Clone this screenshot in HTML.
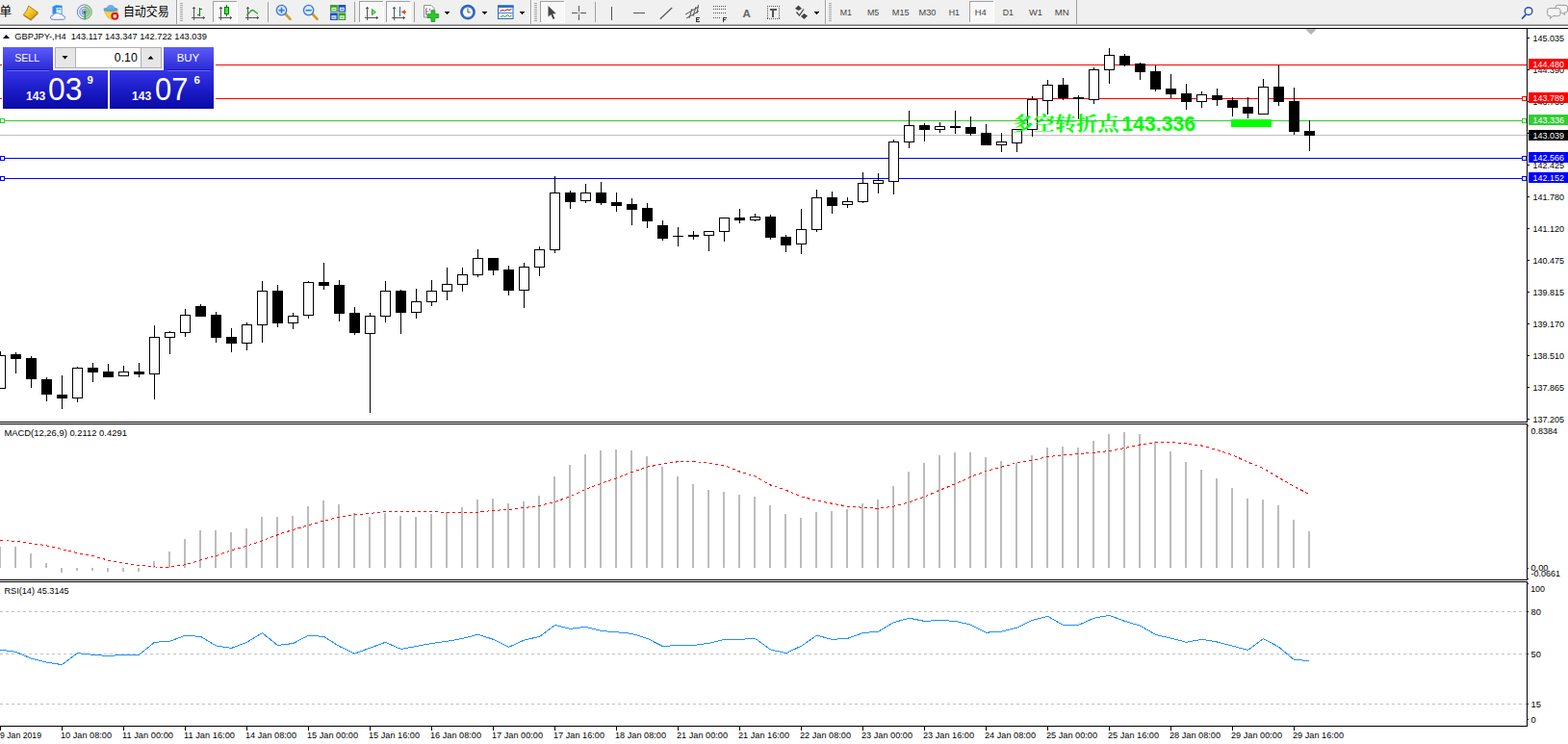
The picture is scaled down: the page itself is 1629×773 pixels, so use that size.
<!DOCTYPE html>
<html><head><meta charset="utf-8"><title>GBPJPY H4</title>
<style>html,body{margin:0;padding:0;background:#fff;overflow:hidden}body{width:1629px;height:773px;font-family:"Liberation Sans",sans-serif}svg{display:block;position:absolute;left:0;top:0}text{font-family:"Liberation Sans",sans-serif}</style>
</head><body>
<svg width="1629" height="773" viewBox="0 0 1629 773">
<rect x="0" y="0" width="1629" height="773" fill="#fff" />
<g shape-rendering="crispEdges">
<rect x="0" y="67" width="1586" height="1" fill="#f00" />
<rect x="0" y="102" width="1586" height="1" fill="#f00" />
<rect x="0" y="125" width="1586" height="1" fill="#32cd32" />
<rect x="0" y="140" width="1586" height="1" fill="#c0c0c0" />
<rect x="0" y="164" width="1586" height="1" fill="#00f" />
<rect x="0" y="185" width="1586" height="1" fill="#00f" />
<rect x="0" y="123" width="5" height="5" fill="#32cd32" />
<rect x="1" y="124" width="3" height="3" fill="#fff" />
<rect x="1581" y="123" width="5" height="5" fill="#32cd32" />
<rect x="1582" y="124" width="3" height="3" fill="#fff" />
<rect x="0" y="162" width="5" height="5" fill="#00f" />
<rect x="1" y="163" width="3" height="3" fill="#fff" />
<rect x="1581" y="162" width="5" height="5" fill="#00f" />
<rect x="1582" y="163" width="3" height="3" fill="#fff" />
<rect x="0" y="183" width="5" height="5" fill="#00f" />
<rect x="1" y="184" width="3" height="3" fill="#fff" />
<rect x="1581" y="183" width="5" height="5" fill="#00f" />
<rect x="1582" y="184" width="3" height="3" fill="#fff" />
<rect x="1581" y="100" width="5" height="5" fill="#f00" />
<rect x="1582" y="101" width="3" height="3" fill="#fff" />
<rect x="1279" y="124" width="42" height="8" fill="#0f0" />
</g>
<g shape-rendering="crispEdges">
<rect x="0" y="365" width="1" height="39" fill="#000" />
<rect x="-5" y="369" width="11" height="35" fill="#000" />
<rect x="-4" y="370" width="9" height="33" fill="#fff" />
<rect x="16" y="366" width="1" height="22" fill="#000" />
<rect x="11" y="368" width="11" height="5" fill="#000" />
<rect x="32" y="370" width="1" height="33" fill="#000" />
<rect x="27" y="372" width="11" height="22" fill="#000" />
<rect x="48" y="392" width="1" height="25" fill="#000" />
<rect x="43" y="394" width="11" height="16" fill="#000" />
<rect x="64" y="390" width="1" height="35" fill="#000" />
<rect x="59" y="410" width="11" height="4" fill="#000" />
<rect x="80" y="381" width="1" height="37" fill="#000" />
<rect x="75" y="382" width="11" height="32" fill="#000" />
<rect x="76" y="383" width="9" height="30" fill="#fff" />
<rect x="96" y="377" width="1" height="20" fill="#000" />
<rect x="91" y="382" width="11" height="5" fill="#000" />
<rect x="112" y="378" width="1" height="14" fill="#000" />
<rect x="107" y="386" width="11" height="6" fill="#000" />
<rect x="128" y="380" width="1" height="11" fill="#000" />
<rect x="123" y="386" width="11" height="5" fill="#000" />
<rect x="124" y="387" width="9" height="3" fill="#fff" />
<rect x="144" y="377" width="1" height="15" fill="#000" />
<rect x="139" y="386" width="11" height="3" fill="#000" />
<rect x="160" y="338" width="1" height="77" fill="#000" />
<rect x="155" y="350" width="11" height="39" fill="#000" />
<rect x="156" y="351" width="9" height="37" fill="#fff" />
<rect x="176" y="344" width="1" height="24" fill="#000" />
<rect x="171" y="345" width="11" height="6" fill="#000" />
<rect x="172" y="346" width="9" height="4" fill="#fff" />
<rect x="192" y="321" width="1" height="29" fill="#000" />
<rect x="187" y="327" width="11" height="19" fill="#000" />
<rect x="188" y="328" width="9" height="17" fill="#fff" />
<rect x="208" y="316" width="1" height="13" fill="#000" />
<rect x="203" y="318" width="11" height="11" fill="#000" />
<rect x="224" y="324" width="1" height="32" fill="#000" />
<rect x="219" y="327" width="11" height="24" fill="#000" />
<rect x="240" y="341" width="1" height="25" fill="#000" />
<rect x="235" y="350" width="11" height="7" fill="#000" />
<rect x="256" y="335" width="1" height="29" fill="#000" />
<rect x="251" y="337" width="11" height="20" fill="#000" />
<rect x="252" y="338" width="9" height="18" fill="#fff" />
<rect x="272" y="292" width="1" height="64" fill="#000" />
<rect x="267" y="302" width="11" height="36" fill="#000" />
<rect x="268" y="303" width="9" height="34" fill="#fff" />
<rect x="288" y="296" width="1" height="44" fill="#000" />
<rect x="283" y="302" width="11" height="34" fill="#000" />
<rect x="304" y="325" width="1" height="17" fill="#000" />
<rect x="299" y="328" width="11" height="8" fill="#000" />
<rect x="300" y="329" width="9" height="6" fill="#fff" />
<rect x="320" y="292" width="1" height="39" fill="#000" />
<rect x="315" y="293" width="11" height="35" fill="#000" />
<rect x="316" y="294" width="9" height="33" fill="#fff" />
<rect x="336" y="273" width="1" height="28" fill="#000" />
<rect x="331" y="293" width="11" height="4" fill="#000" />
<rect x="352" y="291" width="1" height="43" fill="#000" />
<rect x="347" y="296" width="11" height="30" fill="#000" />
<rect x="368" y="319" width="1" height="29" fill="#000" />
<rect x="363" y="325" width="11" height="21" fill="#000" />
<rect x="384" y="325" width="1" height="104" fill="#000" />
<rect x="379" y="328" width="11" height="19" fill="#000" />
<rect x="380" y="329" width="9" height="17" fill="#fff" />
<rect x="400" y="292" width="1" height="43" fill="#000" />
<rect x="395" y="302" width="11" height="27" fill="#000" />
<rect x="396" y="303" width="9" height="25" fill="#fff" />
<rect x="416" y="301" width="1" height="46" fill="#000" />
<rect x="411" y="302" width="11" height="23" fill="#000" />
<rect x="432" y="300" width="1" height="31" fill="#000" />
<rect x="427" y="313" width="11" height="12" fill="#000" />
<rect x="428" y="314" width="9" height="10" fill="#fff" />
<rect x="448" y="291" width="1" height="27" fill="#000" />
<rect x="443" y="302" width="11" height="12" fill="#000" />
<rect x="444" y="303" width="9" height="10" fill="#fff" />
<rect x="464" y="278" width="1" height="34" fill="#000" />
<rect x="459" y="295" width="11" height="8" fill="#000" />
<rect x="460" y="296" width="9" height="6" fill="#fff" />
<rect x="480" y="278" width="1" height="25" fill="#000" />
<rect x="475" y="285" width="11" height="11" fill="#000" />
<rect x="476" y="286" width="9" height="9" fill="#fff" />
<rect x="496" y="259" width="1" height="29" fill="#000" />
<rect x="491" y="268" width="11" height="18" fill="#000" />
<rect x="492" y="269" width="9" height="16" fill="#fff" />
<rect x="512" y="268" width="1" height="18" fill="#000" />
<rect x="507" y="268" width="11" height="13" fill="#000" />
<rect x="528" y="276" width="1" height="31" fill="#000" />
<rect x="523" y="280" width="11" height="22" fill="#000" />
<rect x="544" y="273" width="1" height="47" fill="#000" />
<rect x="539" y="277" width="11" height="25" fill="#000" />
<rect x="540" y="278" width="9" height="23" fill="#fff" />
<rect x="560" y="256" width="1" height="31" fill="#000" />
<rect x="555" y="259" width="11" height="19" fill="#000" />
<rect x="556" y="260" width="9" height="17" fill="#fff" />
<rect x="576" y="183" width="1" height="80" fill="#000" />
<rect x="571" y="200" width="11" height="60" fill="#000" />
<rect x="572" y="201" width="9" height="58" fill="#fff" />
<rect x="592" y="198" width="1" height="19" fill="#000" />
<rect x="587" y="200" width="11" height="10" fill="#000" />
<rect x="608" y="191" width="1" height="20" fill="#000" />
<rect x="603" y="200" width="11" height="9" fill="#000" />
<rect x="604" y="201" width="9" height="7" fill="#fff" />
<rect x="624" y="189" width="1" height="24" fill="#000" />
<rect x="619" y="200" width="11" height="11" fill="#000" />
<rect x="640" y="200" width="1" height="20" fill="#000" />
<rect x="635" y="210" width="11" height="4" fill="#000" />
<rect x="656" y="206" width="1" height="28" fill="#000" />
<rect x="651" y="212" width="11" height="6" fill="#000" />
<rect x="672" y="211" width="1" height="26" fill="#000" />
<rect x="667" y="216" width="11" height="14" fill="#000" />
<rect x="688" y="229" width="1" height="21" fill="#000" />
<rect x="683" y="234" width="11" height="14" fill="#000" />
<rect x="704" y="236" width="1" height="20" fill="#000" />
<rect x="699" y="245" width="11" height="1" fill="#000" />
<rect x="720" y="240" width="1" height="9" fill="#000" />
<rect x="715" y="244" width="11" height="2" fill="#000" />
<rect x="736" y="240" width="1" height="21" fill="#000" />
<rect x="731" y="240" width="11" height="5" fill="#000" />
<rect x="732" y="241" width="9" height="3" fill="#fff" />
<rect x="752" y="226" width="1" height="25" fill="#000" />
<rect x="747" y="226" width="11" height="15" fill="#000" />
<rect x="748" y="227" width="9" height="13" fill="#fff" />
<rect x="768" y="217" width="1" height="15" fill="#000" />
<rect x="763" y="226" width="11" height="3" fill="#000" />
<rect x="784" y="222" width="1" height="8" fill="#000" />
<rect x="779" y="225" width="11" height="4" fill="#000" />
<rect x="780" y="226" width="9" height="2" fill="#fff" />
<rect x="800" y="223" width="1" height="26" fill="#000" />
<rect x="795" y="225" width="11" height="22" fill="#000" />
<rect x="816" y="244" width="1" height="18" fill="#000" />
<rect x="811" y="246" width="11" height="9" fill="#000" />
<rect x="832" y="217" width="1" height="47" fill="#000" />
<rect x="827" y="238" width="11" height="16" fill="#000" />
<rect x="828" y="239" width="9" height="14" fill="#fff" />
<rect x="848" y="197" width="1" height="44" fill="#000" />
<rect x="843" y="205" width="11" height="34" fill="#000" />
<rect x="844" y="206" width="9" height="32" fill="#fff" />
<rect x="864" y="199" width="1" height="23" fill="#000" />
<rect x="859" y="205" width="11" height="9" fill="#000" />
<rect x="880" y="205" width="1" height="11" fill="#000" />
<rect x="875" y="209" width="11" height="4" fill="#000" />
<rect x="876" y="210" width="9" height="2" fill="#fff" />
<rect x="896" y="179" width="1" height="32" fill="#000" />
<rect x="891" y="190" width="11" height="20" fill="#000" />
<rect x="892" y="191" width="9" height="18" fill="#fff" />
<rect x="912" y="180" width="1" height="21" fill="#000" />
<rect x="907" y="187" width="11" height="4" fill="#000" />
<rect x="908" y="188" width="9" height="2" fill="#fff" />
<rect x="928" y="145" width="1" height="57" fill="#000" />
<rect x="923" y="147" width="11" height="42" fill="#000" />
<rect x="924" y="148" width="9" height="40" fill="#fff" />
<rect x="944" y="115" width="1" height="39" fill="#000" />
<rect x="939" y="130" width="11" height="18" fill="#000" />
<rect x="940" y="131" width="9" height="16" fill="#fff" />
<rect x="960" y="128" width="1" height="19" fill="#000" />
<rect x="955" y="130" width="11" height="5" fill="#000" />
<rect x="976" y="127" width="1" height="11" fill="#000" />
<rect x="971" y="131" width="11" height="4" fill="#000" />
<rect x="972" y="132" width="9" height="2" fill="#fff" />
<rect x="992" y="115" width="1" height="24" fill="#000" />
<rect x="987" y="131" width="11" height="2" fill="#000" />
<rect x="1008" y="121" width="1" height="20" fill="#000" />
<rect x="1003" y="132" width="11" height="7" fill="#000" />
<rect x="1024" y="129" width="1" height="22" fill="#000" />
<rect x="1019" y="138" width="11" height="13" fill="#000" />
<rect x="1040" y="138" width="1" height="20" fill="#000" />
<rect x="1035" y="147" width="11" height="4" fill="#000" />
<rect x="1036" y="148" width="9" height="2" fill="#fff" />
<rect x="1056" y="134" width="1" height="24" fill="#000" />
<rect x="1051" y="134" width="11" height="15" fill="#000" />
<rect x="1052" y="135" width="9" height="13" fill="#fff" />
<rect x="1072" y="100" width="1" height="42" fill="#000" />
<rect x="1067" y="103" width="11" height="32" fill="#000" />
<rect x="1068" y="104" width="9" height="30" fill="#fff" />
<rect x="1088" y="83" width="1" height="36" fill="#000" />
<rect x="1083" y="88" width="11" height="17" fill="#000" />
<rect x="1084" y="89" width="9" height="15" fill="#fff" />
<rect x="1104" y="81" width="1" height="23" fill="#000" />
<rect x="1099" y="88" width="11" height="14" fill="#000" />
<rect x="1120" y="99" width="1" height="25" fill="#000" />
<rect x="1115" y="101" width="11" height="2" fill="#000" />
<rect x="1136" y="70" width="1" height="38" fill="#000" />
<rect x="1131" y="72" width="11" height="32" fill="#000" />
<rect x="1132" y="73" width="9" height="30" fill="#fff" />
<rect x="1152" y="50" width="1" height="37" fill="#000" />
<rect x="1147" y="57" width="11" height="16" fill="#000" />
<rect x="1148" y="58" width="9" height="14" fill="#fff" />
<rect x="1168" y="56" width="1" height="13" fill="#000" />
<rect x="1163" y="58" width="11" height="10" fill="#000" />
<rect x="1184" y="65" width="1" height="18" fill="#000" />
<rect x="1179" y="66" width="11" height="9" fill="#000" />
<rect x="1200" y="68" width="1" height="27" fill="#000" />
<rect x="1195" y="74" width="11" height="19" fill="#000" />
<rect x="1216" y="77" width="1" height="25" fill="#000" />
<rect x="1211" y="92" width="11" height="6" fill="#000" />
<rect x="1232" y="87" width="1" height="27" fill="#000" />
<rect x="1227" y="97" width="11" height="9" fill="#000" />
<rect x="1248" y="95" width="1" height="17" fill="#000" />
<rect x="1243" y="98" width="11" height="8" fill="#000" />
<rect x="1244" y="99" width="9" height="6" fill="#fff" />
<rect x="1264" y="92" width="1" height="18" fill="#000" />
<rect x="1259" y="99" width="11" height="5" fill="#000" />
<rect x="1280" y="101" width="1" height="20" fill="#000" />
<rect x="1275" y="104" width="11" height="8" fill="#000" />
<rect x="1296" y="101" width="1" height="22" fill="#000" />
<rect x="1291" y="111" width="11" height="7" fill="#000" />
<rect x="1312" y="82" width="1" height="37" fill="#000" />
<rect x="1307" y="90" width="11" height="29" fill="#000" />
<rect x="1308" y="91" width="9" height="27" fill="#fff" />
<rect x="1328" y="68" width="1" height="42" fill="#000" />
<rect x="1323" y="90" width="11" height="16" fill="#000" />
<rect x="1344" y="91" width="1" height="49" fill="#000" />
<rect x="1339" y="105" width="11" height="32" fill="#000" />
<rect x="1360" y="125" width="1" height="32" fill="#000" />
<rect x="1355" y="136" width="11" height="5" fill="#000" />
</g>
<text x="1051.6" y="136" font-size="20.5" fill="#0f0" text-anchor="start" font-weight="bold" textLength="111" lengthAdjust="spacingAndGlyphs" style="font-family:'Liberation Serif','Noto Serif CJK SC',serif">多空转折点</text>
<text x="1165.2" y="135.8" font-size="21.5" fill="#0f0" text-anchor="start" font-weight="bold" textLength="77" lengthAdjust="spacingAndGlyphs" >143.336</text>
<g shape-rendering="crispEdges">
<rect x="1052" y="125" width="15" height="1" fill="#32cd32" />
<rect x="1078" y="125" width="165" height="1" fill="#32cd32" />
</g>
<g shape-rendering="crispEdges">
<rect x="-1" y="568" width="2" height="22" fill="#bcbcbc" />
<rect x="15" y="568" width="2" height="22" fill="#bcbcbc" />
<rect x="31" y="575" width="2" height="15" fill="#bcbcbc" />
<rect x="47" y="585" width="2" height="5" fill="#bcbcbc" />
<rect x="63" y="590" width="2" height="5" fill="#bcbcbc" />
<rect x="79" y="590" width="2" height="3" fill="#bcbcbc" />
<rect x="95" y="590" width="2" height="3" fill="#bcbcbc" />
<rect x="111" y="590" width="2" height="4" fill="#bcbcbc" />
<rect x="127" y="590" width="2" height="4" fill="#bcbcbc" />
<rect x="143" y="590" width="2" height="4" fill="#bcbcbc" />
<rect x="159" y="583" width="2" height="7" fill="#bcbcbc" />
<rect x="175" y="573" width="2" height="17" fill="#bcbcbc" />
<rect x="191" y="560" width="2" height="30" fill="#bcbcbc" />
<rect x="207" y="551" width="2" height="39" fill="#bcbcbc" />
<rect x="223" y="551" width="2" height="39" fill="#bcbcbc" />
<rect x="239" y="553" width="2" height="37" fill="#bcbcbc" />
<rect x="255" y="549" width="2" height="41" fill="#bcbcbc" />
<rect x="271" y="537" width="2" height="53" fill="#bcbcbc" />
<rect x="287" y="537" width="2" height="53" fill="#bcbcbc" />
<rect x="303" y="536" width="2" height="54" fill="#bcbcbc" />
<rect x="319" y="526" width="2" height="64" fill="#bcbcbc" />
<rect x="335" y="520" width="2" height="70" fill="#bcbcbc" />
<rect x="351" y="524" width="2" height="66" fill="#bcbcbc" />
<rect x="367" y="533" width="2" height="57" fill="#bcbcbc" />
<rect x="383" y="537" width="2" height="53" fill="#bcbcbc" />
<rect x="399" y="533" width="2" height="57" fill="#bcbcbc" />
<rect x="415" y="536" width="2" height="54" fill="#bcbcbc" />
<rect x="431" y="537" width="2" height="53" fill="#bcbcbc" />
<rect x="447" y="534" width="2" height="56" fill="#bcbcbc" />
<rect x="463" y="532" width="2" height="58" fill="#bcbcbc" />
<rect x="479" y="527" width="2" height="63" fill="#bcbcbc" />
<rect x="495" y="519" width="2" height="71" fill="#bcbcbc" />
<rect x="511" y="518" width="2" height="72" fill="#bcbcbc" />
<rect x="527" y="523" width="2" height="67" fill="#bcbcbc" />
<rect x="543" y="521" width="2" height="69" fill="#bcbcbc" />
<rect x="559" y="515" width="2" height="75" fill="#bcbcbc" />
<rect x="575" y="495" width="2" height="95" fill="#bcbcbc" />
<rect x="591" y="483" width="2" height="107" fill="#bcbcbc" />
<rect x="607" y="472" width="2" height="118" fill="#bcbcbc" />
<rect x="623" y="468" width="2" height="122" fill="#bcbcbc" />
<rect x="639" y="467" width="2" height="123" fill="#bcbcbc" />
<rect x="655" y="468" width="2" height="122" fill="#bcbcbc" />
<rect x="671" y="474" width="2" height="116" fill="#bcbcbc" />
<rect x="687" y="485" width="2" height="105" fill="#bcbcbc" />
<rect x="703" y="495" width="2" height="95" fill="#bcbcbc" />
<rect x="719" y="503" width="2" height="87" fill="#bcbcbc" />
<rect x="735" y="509" width="2" height="81" fill="#bcbcbc" />
<rect x="751" y="511" width="2" height="79" fill="#bcbcbc" />
<rect x="767" y="514" width="2" height="76" fill="#bcbcbc" />
<rect x="783" y="516" width="2" height="74" fill="#bcbcbc" />
<rect x="799" y="525" width="2" height="65" fill="#bcbcbc" />
<rect x="815" y="534" width="2" height="56" fill="#bcbcbc" />
<rect x="831" y="538" width="2" height="52" fill="#bcbcbc" />
<rect x="847" y="532" width="2" height="58" fill="#bcbcbc" />
<rect x="863" y="531" width="2" height="59" fill="#bcbcbc" />
<rect x="879" y="529" width="2" height="61" fill="#bcbcbc" />
<rect x="895" y="523" width="2" height="67" fill="#bcbcbc" />
<rect x="911" y="519" width="2" height="71" fill="#bcbcbc" />
<rect x="927" y="505" width="2" height="85" fill="#bcbcbc" />
<rect x="943" y="490" width="2" height="100" fill="#bcbcbc" />
<rect x="959" y="481" width="2" height="109" fill="#bcbcbc" />
<rect x="975" y="473" width="2" height="117" fill="#bcbcbc" />
<rect x="991" y="470" width="2" height="120" fill="#bcbcbc" />
<rect x="1007" y="470" width="2" height="120" fill="#bcbcbc" />
<rect x="1023" y="475" width="2" height="115" fill="#bcbcbc" />
<rect x="1039" y="479" width="2" height="111" fill="#bcbcbc" />
<rect x="1055" y="481" width="2" height="109" fill="#bcbcbc" />
<rect x="1071" y="473" width="2" height="117" fill="#bcbcbc" />
<rect x="1087" y="465" width="2" height="125" fill="#bcbcbc" />
<rect x="1103" y="464" width="2" height="126" fill="#bcbcbc" />
<rect x="1119" y="465" width="2" height="125" fill="#bcbcbc" />
<rect x="1135" y="458" width="2" height="132" fill="#bcbcbc" />
<rect x="1151" y="451" width="2" height="139" fill="#bcbcbc" />
<rect x="1167" y="449" width="2" height="141" fill="#bcbcbc" />
<rect x="1183" y="451" width="2" height="139" fill="#bcbcbc" />
<rect x="1199" y="459" width="2" height="131" fill="#bcbcbc" />
<rect x="1215" y="469" width="2" height="121" fill="#bcbcbc" />
<rect x="1231" y="480" width="2" height="110" fill="#bcbcbc" />
<rect x="1247" y="488" width="2" height="102" fill="#bcbcbc" />
<rect x="1263" y="497" width="2" height="93" fill="#bcbcbc" />
<rect x="1279" y="507" width="2" height="83" fill="#bcbcbc" />
<rect x="1295" y="518" width="2" height="72" fill="#bcbcbc" />
<rect x="1311" y="519" width="2" height="71" fill="#bcbcbc" />
<rect x="1327" y="525" width="2" height="65" fill="#bcbcbc" />
<rect x="1343" y="540" width="2" height="50" fill="#bcbcbc" />
<rect x="1359" y="552" width="2" height="38" fill="#bcbcbc" />
</g>
<polyline points="0.5,561.5 16.5,562.5 32.5,564.4 48.5,566.9 64.5,570.6 80.5,574.7 96.5,577.7 112.5,582.1 128.5,585.3 144.5,587.3 160.5,589.0 176.5,589.2 192.5,586.8 208.5,581.9 224.5,577.4 240.5,571.8 256.5,567.4 272.5,561.7 288.5,555.6 304.5,550.4 320.5,545.8 336.5,541.1 352.5,537.2 368.5,534.7 384.5,533.5 400.5,531.3 416.5,531.3 432.5,531.3 448.5,531.3 464.5,532.5 480.5,532.5 496.5,532.3 512.5,530.3 528.5,529.6 544.5,527.6 560.5,525.4 576.5,521.5 592.5,515.8 608.5,508.4 624.5,502.3 640.5,496.7 656.5,490.5 672.5,485.1 688.5,482.2 704.5,479.7 720.5,479.5 736.5,480.9 752.5,483.6 768.5,490.0 784.5,494.9 800.5,504.0 816.5,509.2 832.5,515.8 848.5,520.2 864.5,523.2 880.5,526.1 896.5,527.3 912.5,528.3 928.5,526.1 944.5,521.9 960.5,516.0 976.5,509.2 992.5,502.8 1008.5,495.4 1024.5,489.5 1040.5,485.1 1056.5,480.9 1072.5,478.2 1088.5,474.6 1104.5,472.8 1120.5,471.6 1136.5,470.4 1152.5,468.4 1168.5,465.5 1184.5,462.0 1200.5,459.8 1216.5,459.6 1232.5,461.0 1248.5,463.0 1264.5,467.4 1280.5,472.8 1296.5,480.2 1312.5,486.6 1328.5,496.2 1344.5,505.5 1360.5,513.6" fill="none" stroke="#f00" stroke-width="1" stroke-dasharray="3,3" shape-rendering="crispEdges"/>
<g shape-rendering="crispEdges">
<line x1="0" y1="635.5" x2="1586" y2="635.5" stroke="#c0c0c0" stroke-width="1" stroke-dasharray="3,3"/>
<line x1="0" y1="679.5" x2="1586" y2="679.5" stroke="#c0c0c0" stroke-width="1" stroke-dasharray="3,3"/>
<line x1="0" y1="731.5" x2="1586" y2="731.5" stroke="#c0c0c0" stroke-width="1" stroke-dasharray="3,3"/>
</g>
<polyline points="0.5,675.1 16.5,677.3 32.5,684.2 48.5,688.2 64.5,690.6 80.5,678.6 96.5,680.3 112.5,681.5 128.5,680.3 144.5,680.3 160.5,667.3 176.5,666.3 192.5,660.2 208.5,661.4 224.5,671.0 240.5,673.4 256.5,667.3 272.5,657.7 288.5,670.5 304.5,668.5 320.5,660.2 336.5,661.4 352.5,671.5 368.5,679.1 384.5,673.2 400.5,667.3 416.5,674.4 432.5,671.5 448.5,668.5 464.5,666.3 480.5,663.4 496.5,659.2 512.5,664.3 528.5,672.4 544.5,665.1 560.5,661.4 576.5,649.4 592.5,653.3 608.5,651.3 624.5,655.5 640.5,656.7 656.5,658.4 672.5,663.4 688.5,671.5 704.5,670.5 720.5,670.5 736.5,668.3 752.5,664.3 768.5,664.3 784.5,663.4 800.5,674.9 816.5,678.6 832.5,671.2 848.5,660.2 864.5,664.3 880.5,663.4 896.5,657.5 912.5,656.2 928.5,646.7 944.5,642.2 960.5,645.4 976.5,644.4 992.5,645.4 1008.5,649.1 1024.5,657.2 1040.5,656.2 1056.5,652.1 1072.5,644.4 1088.5,640.3 1104.5,649.4 1120.5,649.4 1136.5,642.2 1152.5,639.3 1168.5,645.4 1184.5,650.1 1200.5,659.4 1216.5,663.1 1232.5,667.3 1248.5,664.3 1264.5,667.0 1280.5,671.2 1296.5,675.4 1312.5,663.6 1328.5,672.2 1344.5,685.5 1360.5,686.4" fill="none" stroke="#1e90ff" stroke-width="1" shape-rendering="crispEdges"/>
<g shape-rendering="crispEdges">
<rect x="0" y="29" width="1629" height="1" fill="#000" />
<rect x="1586" y="29" width="1" height="726" fill="#000" />
<rect x="0" y="438" width="1587" height="1" fill="#000" />
<rect x="1586" y="439" width="1" height="1" fill="#fff" />
<rect x="0" y="440" width="1587" height="1" fill="#000" />
<rect x="0" y="602" width="1587" height="1" fill="#000" />
<rect x="1586" y="603" width="1" height="1" fill="#fff" />
<rect x="0" y="604" width="1587" height="1" fill="#000" />
<rect x="0" y="754" width="1587" height="1" fill="#000" />
<rect x="0" y="755" width="1" height="4" fill="#000" />
<rect x="64" y="755" width="1" height="4" fill="#000" />
<rect x="128" y="755" width="1" height="4" fill="#000" />
<rect x="192" y="755" width="1" height="4" fill="#000" />
<rect x="256" y="755" width="1" height="4" fill="#000" />
<rect x="320" y="755" width="1" height="4" fill="#000" />
<rect x="384" y="755" width="1" height="4" fill="#000" />
<rect x="448" y="755" width="1" height="4" fill="#000" />
<rect x="512" y="755" width="1" height="4" fill="#000" />
<rect x="576" y="755" width="1" height="4" fill="#000" />
<rect x="640" y="755" width="1" height="4" fill="#000" />
<rect x="704" y="755" width="1" height="4" fill="#000" />
<rect x="768" y="755" width="1" height="4" fill="#000" />
<rect x="832" y="755" width="1" height="4" fill="#000" />
<rect x="896" y="755" width="1" height="4" fill="#000" />
<rect x="960" y="755" width="1" height="4" fill="#000" />
<rect x="1024" y="755" width="1" height="4" fill="#000" />
<rect x="1088" y="755" width="1" height="4" fill="#000" />
<rect x="1152" y="755" width="1" height="4" fill="#000" />
<rect x="1216" y="755" width="1" height="4" fill="#000" />
<rect x="1280" y="755" width="1" height="4" fill="#000" />
<rect x="1344" y="755" width="1" height="4" fill="#000" />
<rect x="1587" y="39" width="2" height="1" fill="#000" />
<rect x="1587" y="72" width="2" height="1" fill="#000" />
<rect x="1587" y="105" width="2" height="1" fill="#000" />
<rect x="1587" y="138" width="2" height="1" fill="#000" />
<rect x="1587" y="171" width="2" height="1" fill="#000" />
<rect x="1587" y="204" width="2" height="1" fill="#000" />
<rect x="1587" y="237" width="2" height="1" fill="#000" />
<rect x="1587" y="270" width="2" height="1" fill="#000" />
<rect x="1587" y="303" width="2" height="1" fill="#000" />
<rect x="1587" y="336" width="2" height="1" fill="#000" />
<rect x="1587" y="369" width="2" height="1" fill="#000" />
<rect x="1587" y="402" width="2" height="1" fill="#000" />
<rect x="1587" y="435" width="2" height="1" fill="#000" />
<rect x="1587" y="442" width="1" height="1" fill="#000" />
<rect x="1587" y="590" width="1" height="1" fill="#000" />
<rect x="1587" y="601" width="1" height="1" fill="#000" />
<rect x="1587" y="606" width="1" height="1" fill="#000" />
<rect x="1587" y="635" width="1" height="1" fill="#000" />
<rect x="1587" y="679" width="1" height="1" fill="#000" />
<rect x="1587" y="731" width="1" height="1" fill="#000" />
<rect x="1587" y="747" width="1" height="1" fill="#000" />
<polygon points="1356,30 1368,30 1362,36" fill="#b4b4b4" shape-rendering="geometricPrecision"/>
</g>
<g font-family="Liberation Sans, sans-serif">
<text x="1592.5" y="43" font-size="9.3" fill="#000" text-anchor="start" font-weight="normal" textLength="32.5" lengthAdjust="spacingAndGlyphs" >145.035</text>
<text x="1592.5" y="76" font-size="9.3" fill="#000" text-anchor="start" font-weight="normal" textLength="32.5" lengthAdjust="spacingAndGlyphs" >144.390</text>
<text x="1592.5" y="109" font-size="9.3" fill="#000" text-anchor="start" font-weight="normal" textLength="32.5" lengthAdjust="spacingAndGlyphs" >143.730</text>
<text x="1592.5" y="142" font-size="9.3" fill="#000" text-anchor="start" font-weight="normal" textLength="32.5" lengthAdjust="spacingAndGlyphs" >143.085</text>
<text x="1592.5" y="175" font-size="9.3" fill="#000" text-anchor="start" font-weight="normal" textLength="32.5" lengthAdjust="spacingAndGlyphs" >142.425</text>
<text x="1592.5" y="208" font-size="9.3" fill="#000" text-anchor="start" font-weight="normal" textLength="32.5" lengthAdjust="spacingAndGlyphs" >141.780</text>
<text x="1592.5" y="241" font-size="9.3" fill="#000" text-anchor="start" font-weight="normal" textLength="32.5" lengthAdjust="spacingAndGlyphs" >141.120</text>
<text x="1592.5" y="274" font-size="9.3" fill="#000" text-anchor="start" font-weight="normal" textLength="32.5" lengthAdjust="spacingAndGlyphs" >140.475</text>
<text x="1592.5" y="307" font-size="9.3" fill="#000" text-anchor="start" font-weight="normal" textLength="32.5" lengthAdjust="spacingAndGlyphs" >139.815</text>
<text x="1592.5" y="340" font-size="9.3" fill="#000" text-anchor="start" font-weight="normal" textLength="32.5" lengthAdjust="spacingAndGlyphs" >139.170</text>
<text x="1592.5" y="373" font-size="9.3" fill="#000" text-anchor="start" font-weight="normal" textLength="32.5" lengthAdjust="spacingAndGlyphs" >138.510</text>
<text x="1592.5" y="406" font-size="9.3" fill="#000" text-anchor="start" font-weight="normal" textLength="32.5" lengthAdjust="spacingAndGlyphs" >137.865</text>
<text x="1592.5" y="439" font-size="9.3" fill="#000" text-anchor="start" font-weight="normal" textLength="32.5" lengthAdjust="spacingAndGlyphs" >137.205</text>
<rect x="1588" y="61" width="41" height="11" fill="#f00" shape-rendering="crispEdges"/>
<text x="1592.5" y="70" font-size="9.3" fill="#fff" text-anchor="start" font-weight="normal" textLength="32.5" lengthAdjust="spacingAndGlyphs" >144.480</text>
<rect x="1588" y="96" width="41" height="11" fill="#f00" shape-rendering="crispEdges"/>
<text x="1592.5" y="105" font-size="9.3" fill="#fff" text-anchor="start" font-weight="normal" textLength="32.5" lengthAdjust="spacingAndGlyphs" >143.789</text>
<rect x="1588" y="119" width="41" height="11" fill="#32cd32" shape-rendering="crispEdges"/>
<text x="1592.5" y="128" font-size="9.3" fill="#fff" text-anchor="start" font-weight="normal" textLength="32.5" lengthAdjust="spacingAndGlyphs" >143.336</text>
<rect x="1588" y="135" width="41" height="11" fill="#000" shape-rendering="crispEdges"/>
<text x="1592.5" y="144" font-size="9.3" fill="#fff" text-anchor="start" font-weight="normal" textLength="32.5" lengthAdjust="spacingAndGlyphs" >143.039</text>
<rect x="1588" y="158" width="41" height="11" fill="#00f" shape-rendering="crispEdges"/>
<text x="1592.5" y="167" font-size="9.3" fill="#fff" text-anchor="start" font-weight="normal" textLength="32.5" lengthAdjust="spacingAndGlyphs" >142.566</text>
<rect x="1588" y="179" width="41" height="11" fill="#00f" shape-rendering="crispEdges"/>
<text x="1592.5" y="188" font-size="9.3" fill="#fff" text-anchor="start" font-weight="normal" textLength="32.5" lengthAdjust="spacingAndGlyphs" >142.152</text>
<text x="1590.5" y="451" font-size="9.3" fill="#000" text-anchor="start" font-weight="normal" textLength="27.5" lengthAdjust="spacingAndGlyphs" >0.8384</text>
<text x="1590.5" y="593" font-size="9.3" fill="#000" text-anchor="start" font-weight="normal" textLength="18" lengthAdjust="spacingAndGlyphs" >0.00</text>
<text x="1590.5" y="599" font-size="9.3" fill="#000" text-anchor="start" font-weight="normal" textLength="30.5" lengthAdjust="spacingAndGlyphs" >-0.0661</text>
<text x="1590.2" y="615" font-size="9.3" fill="#000" text-anchor="start" font-weight="normal" textLength="14.8" lengthAdjust="spacingAndGlyphs" >100</text>
<text x="1590.5" y="639" font-size="9.3" fill="#000" text-anchor="start" font-weight="normal" >80</text>
<text x="1590.5" y="683" font-size="9.3" fill="#000" text-anchor="start" font-weight="normal" >50</text>
<text x="1590.5" y="735" font-size="9.3" fill="#000" text-anchor="start" font-weight="normal" >15</text>
<text x="1590.5" y="751" font-size="9.3" fill="#000" text-anchor="start" font-weight="normal" >0</text>
<text x="0" y="767" font-size="9.3" fill="#000" text-anchor="start" font-weight="normal" textLength="43" lengthAdjust="spacingAndGlyphs" >9 Jan 2019</text>
<text x="63" y="766.8" font-size="9.3" fill="#000" text-anchor="start" font-weight="normal" textLength="53" lengthAdjust="spacingAndGlyphs" >10 Jan 08:00</text>
<text x="127" y="766.8" font-size="9.3" fill="#000" text-anchor="start" font-weight="normal" textLength="53" lengthAdjust="spacingAndGlyphs" >11 Jan 00:00</text>
<text x="191" y="766.8" font-size="9.3" fill="#000" text-anchor="start" font-weight="normal" textLength="53" lengthAdjust="spacingAndGlyphs" >11 Jan 16:00</text>
<text x="255" y="766.8" font-size="9.3" fill="#000" text-anchor="start" font-weight="normal" textLength="53" lengthAdjust="spacingAndGlyphs" >14 Jan 08:00</text>
<text x="319" y="766.8" font-size="9.3" fill="#000" text-anchor="start" font-weight="normal" textLength="53" lengthAdjust="spacingAndGlyphs" >15 Jan 00:00</text>
<text x="383" y="766.8" font-size="9.3" fill="#000" text-anchor="start" font-weight="normal" textLength="53" lengthAdjust="spacingAndGlyphs" >15 Jan 16:00</text>
<text x="447" y="766.8" font-size="9.3" fill="#000" text-anchor="start" font-weight="normal" textLength="53" lengthAdjust="spacingAndGlyphs" >16 Jan 08:00</text>
<text x="511" y="766.8" font-size="9.3" fill="#000" text-anchor="start" font-weight="normal" textLength="53" lengthAdjust="spacingAndGlyphs" >17 Jan 00:00</text>
<text x="575" y="766.8" font-size="9.3" fill="#000" text-anchor="start" font-weight="normal" textLength="53" lengthAdjust="spacingAndGlyphs" >17 Jan 16:00</text>
<text x="639" y="766.8" font-size="9.3" fill="#000" text-anchor="start" font-weight="normal" textLength="53" lengthAdjust="spacingAndGlyphs" >18 Jan 08:00</text>
<text x="703" y="766.8" font-size="9.3" fill="#000" text-anchor="start" font-weight="normal" textLength="53" lengthAdjust="spacingAndGlyphs" >21 Jan 00:00</text>
<text x="767" y="766.8" font-size="9.3" fill="#000" text-anchor="start" font-weight="normal" textLength="53" lengthAdjust="spacingAndGlyphs" >21 Jan 16:00</text>
<text x="831" y="766.8" font-size="9.3" fill="#000" text-anchor="start" font-weight="normal" textLength="53" lengthAdjust="spacingAndGlyphs" >22 Jan 08:00</text>
<text x="895" y="766.8" font-size="9.3" fill="#000" text-anchor="start" font-weight="normal" textLength="53" lengthAdjust="spacingAndGlyphs" >23 Jan 00:00</text>
<text x="959" y="766.8" font-size="9.3" fill="#000" text-anchor="start" font-weight="normal" textLength="53" lengthAdjust="spacingAndGlyphs" >23 Jan 16:00</text>
<text x="1023" y="766.8" font-size="9.3" fill="#000" text-anchor="start" font-weight="normal" textLength="53" lengthAdjust="spacingAndGlyphs" >24 Jan 08:00</text>
<text x="1087" y="766.8" font-size="9.3" fill="#000" text-anchor="start" font-weight="normal" textLength="53" lengthAdjust="spacingAndGlyphs" >25 Jan 00:00</text>
<text x="1151" y="766.8" font-size="9.3" fill="#000" text-anchor="start" font-weight="normal" textLength="53" lengthAdjust="spacingAndGlyphs" >25 Jan 16:00</text>
<text x="1215" y="766.8" font-size="9.3" fill="#000" text-anchor="start" font-weight="normal" textLength="53" lengthAdjust="spacingAndGlyphs" >28 Jan 08:00</text>
<text x="1279" y="766.8" font-size="9.3" fill="#000" text-anchor="start" font-weight="normal" textLength="53" lengthAdjust="spacingAndGlyphs" >29 Jan 00:00</text>
<text x="1343" y="766.8" font-size="9.3" fill="#000" text-anchor="start" font-weight="normal" textLength="53" lengthAdjust="spacingAndGlyphs" >29 Jan 16:00</text>
<text x="15.3" y="41" font-size="9.3" fill="#000" text-anchor="start" font-weight="normal" textLength="199.5" lengthAdjust="spacingAndGlyphs" xml:space="preserve">GBPJPY-,H4&#160;&#160;143.117 143.347 142.722 143.039</text>
<polygon points="3,40 10,40 6.5,36" fill="#000"/>
<text x="4.4" y="452.5" font-size="9.3" fill="#000" text-anchor="start" font-weight="normal" textLength="127.5" lengthAdjust="spacingAndGlyphs" >MACD(12,26,9) 0.2112 0.4291</text>
<text x="4.4" y="616.5" font-size="9.3" fill="#000" text-anchor="start" font-weight="normal" textLength="67.3" lengthAdjust="spacingAndGlyphs" >RSI(14) 45.3145</text>
</g>
<g font-family="Liberation Sans, sans-serif">
<defs><linearGradient id="pg" gradientUnits="userSpaceOnUse" x1="0" y1="49" x2="0" y2="73"><stop offset="0" stop-color="#5c5cf8"/><stop offset="1" stop-color="#2a2ad6"/></linearGradient><linearGradient id="pg2" gradientUnits="userSpaceOnUse" x1="0" y1="73" x2="0" y2="113"><stop offset="0" stop-color="#3636e8"/><stop offset="0.5" stop-color="#1c1cc8"/><stop offset="1" stop-color="#0a0aa8"/></linearGradient></defs>
<g shape-rendering="crispEdges">
<rect x="2" y="48" width="222" height="66" fill="#fff" />
<rect x="3" y="49" width="52" height="24" fill="url(#pg)" />
<rect x="170" y="49" width="52" height="24" fill="url(#pg)" />
<rect x="3" y="73" width="109" height="40" fill="url(#pg2)" />
<rect x="114" y="73" width="108" height="40" fill="url(#pg2)" />
<rect x="7" y="72" width="44" height="1" fill="#1a1ab0" />
<rect x="174" y="72" width="44" height="1" fill="#1a1ab0" />
<rect x="7" y="73" width="44" height="1" fill="#6a6af0" />
<rect x="174" y="73" width="44" height="1" fill="#6a6af0" />
<rect x="57" y="49" width="111" height="22" fill="#adadad" />
<rect x="58" y="50" width="109" height="20" fill="#fff" />
<rect x="58" y="50" width="20" height="20" fill="#e6e6e6" />
<rect x="147" y="50" width="20" height="20" fill="#e6e6e6" />
<rect x="78" y="50" width="1" height="20" fill="#adadad" />
<rect x="146" y="50" width="1" height="20" fill="#adadad" />
</g>
<polygon points="64.5,58 70.5,58 67.5,61.5" fill="#000"/><polygon points="153.5,61.5 159.5,61.5 156.5,58" fill="#000"/>
<text x="142.8" y="64" font-size="12.3" fill="#000" text-anchor="end" font-weight="normal" >0.10</text>
<text x="28.2" y="64.3" font-size="11.8" fill="#fff" text-anchor="middle" font-weight="normal" textLength="25.8" lengthAdjust="spacingAndGlyphs" >SELL</text>
<text x="195.5" y="64.3" font-size="11.8" fill="#fff" text-anchor="middle" font-weight="normal" textLength="23.5" lengthAdjust="spacingAndGlyphs" >BUY</text>
<text x="27" y="104" font-size="12.4" fill="#fff" text-anchor="start" font-weight="bold" textLength="20.3" lengthAdjust="spacingAndGlyphs" >143</text>
<text x="50" y="103.8" font-size="33" fill="#fff" text-anchor="start" font-weight="normal" textLength="35.4" lengthAdjust="spacingAndGlyphs" >03</text>
<text x="90.4" y="87.4" font-size="11.4" fill="#fff" text-anchor="start" font-weight="bold" >9</text>
<text x="137" y="104" font-size="12.4" fill="#fff" text-anchor="start" font-weight="bold" textLength="20.3" lengthAdjust="spacingAndGlyphs" >143</text>
<text x="161.1" y="103.8" font-size="33" fill="#fff" text-anchor="start" font-weight="normal" textLength="34.4" lengthAdjust="spacingAndGlyphs" >07</text>
<text x="201.6" y="87.4" font-size="11.4" fill="#fff" text-anchor="start" font-weight="bold" >6</text>
</g>
<g shape-rendering="crispEdges">
<rect x="0" y="0" width="1629" height="25" fill="#f0f0f0" />
<rect x="0" y="25" width="1629" height="1" fill="#b0b0b0" />
<rect x="0" y="26" width="1629" height="1" fill="#787878" />
<rect x="0" y="27" width="1629" height="2" fill="#fff" />
<rect x="183" y="0" width="1" height="25" fill="#a0a0a0" />
<rect x="184" y="0" width="1" height="25" fill="#fff" />
<rect x="187" y="3" width="3" height="1" fill="#a8a8a8" />
<rect x="187" y="5" width="3" height="1" fill="#a8a8a8" />
<rect x="187" y="7" width="3" height="1" fill="#a8a8a8" />
<rect x="187" y="9" width="3" height="1" fill="#a8a8a8" />
<rect x="187" y="11" width="3" height="1" fill="#a8a8a8" />
<rect x="187" y="13" width="3" height="1" fill="#a8a8a8" />
<rect x="187" y="15" width="3" height="1" fill="#a8a8a8" />
<rect x="187" y="17" width="3" height="1" fill="#a8a8a8" />
<rect x="187" y="19" width="3" height="1" fill="#a8a8a8" />
<rect x="187" y="21" width="3" height="1" fill="#a8a8a8" />
<rect x="221" y="1" width="26" height="23" fill="#fff" />
<rect x="221" y="1" width="25" height="22" fill="#a0a0a0" />
<rect x="222" y="2" width="24" height="21" fill="#f8f8f8" />
<rect x="201" y="7" width="1" height="14" fill="#555" />
<rect x="200" y="8" width="3" height="1" fill="#555" />
<rect x="199" y="18" width="14" height="1" fill="#555" />
<rect x="211" y="17" width="1" height="3" fill="#555" />
<rect x="229" y="7" width="1" height="14" fill="#555" />
<rect x="228" y="8" width="3" height="1" fill="#555" />
<rect x="227" y="18" width="14" height="1" fill="#555" />
<rect x="239" y="17" width="1" height="3" fill="#555" />
<rect x="257" y="7" width="1" height="14" fill="#555" />
<rect x="256" y="8" width="3" height="1" fill="#555" />
<rect x="255" y="18" width="14" height="1" fill="#555" />
<rect x="267" y="17" width="1" height="3" fill="#555" />
<rect x="207" y="8" width="1" height="9" fill="#008000" />
<rect x="208" y="9" width="2" height="1" fill="#008000" />
<rect x="205" y="15" width="2" height="1" fill="#008000" />
<rect x="235" y="5" width="1" height="12" fill="#008000" />
<rect x="233" y="7" width="5" height="8" fill="#008000" />
<rect x="234" y="8" width="3" height="6" fill="#44e044" />
<rect x="278" y="2" width="1" height="21" fill="#a0a0a0" />
<rect x="368" y="2" width="1" height="21" fill="#a0a0a0" />
<rect x="373" y="1" width="26" height="23" fill="#fff" />
<rect x="373" y="1" width="25" height="22" fill="#a0a0a0" />
<rect x="374" y="2" width="24" height="21" fill="#f8f8f8" />
<rect x="401" y="1" width="26" height="23" fill="#fff" />
<rect x="401" y="1" width="25" height="22" fill="#a0a0a0" />
<rect x="402" y="2" width="24" height="21" fill="#f8f8f8" />
<rect x="381" y="7" width="1" height="14" fill="#555" />
<rect x="380" y="8" width="3" height="1" fill="#555" />
<rect x="379" y="18" width="14" height="1" fill="#555" />
<rect x="391" y="17" width="1" height="3" fill="#555" />
<rect x="409" y="7" width="1" height="14" fill="#555" />
<rect x="408" y="8" width="3" height="1" fill="#555" />
<rect x="407" y="18" width="14" height="1" fill="#555" />
<rect x="419" y="17" width="1" height="3" fill="#555" />
<rect x="430" y="2" width="1" height="21" fill="#a0a0a0" />
<rect x="551" y="0" width="1" height="25" fill="#a0a0a0" />
<rect x="552" y="0" width="1" height="25" fill="#fff" />
<rect x="555" y="3" width="3" height="1" fill="#a8a8a8" />
<rect x="555" y="5" width="3" height="1" fill="#a8a8a8" />
<rect x="555" y="7" width="3" height="1" fill="#a8a8a8" />
<rect x="555" y="9" width="3" height="1" fill="#a8a8a8" />
<rect x="555" y="11" width="3" height="1" fill="#a8a8a8" />
<rect x="555" y="13" width="3" height="1" fill="#a8a8a8" />
<rect x="555" y="15" width="3" height="1" fill="#a8a8a8" />
<rect x="555" y="17" width="3" height="1" fill="#a8a8a8" />
<rect x="555" y="19" width="3" height="1" fill="#a8a8a8" />
<rect x="555" y="21" width="3" height="1" fill="#a8a8a8" />
<rect x="561" y="1" width="26" height="23" fill="#fff" />
<rect x="561" y="1" width="25" height="22" fill="#a0a0a0" />
<rect x="562" y="2" width="24" height="21" fill="#f8f8f8" />
<rect x="618" y="2" width="1" height="21" fill="#a0a0a0" />
<rect x="857" y="0" width="1" height="25" fill="#a0a0a0" />
<rect x="858" y="0" width="1" height="25" fill="#fff" />
<rect x="861" y="3" width="3" height="1" fill="#a8a8a8" />
<rect x="861" y="5" width="3" height="1" fill="#a8a8a8" />
<rect x="861" y="7" width="3" height="1" fill="#a8a8a8" />
<rect x="861" y="9" width="3" height="1" fill="#a8a8a8" />
<rect x="861" y="11" width="3" height="1" fill="#a8a8a8" />
<rect x="861" y="13" width="3" height="1" fill="#a8a8a8" />
<rect x="861" y="15" width="3" height="1" fill="#a8a8a8" />
<rect x="861" y="17" width="3" height="1" fill="#a8a8a8" />
<rect x="861" y="19" width="3" height="1" fill="#a8a8a8" />
<rect x="861" y="21" width="3" height="1" fill="#a8a8a8" />
<rect x="1007" y="1" width="26" height="23" fill="#fff" />
<rect x="1007" y="1" width="25" height="22" fill="#a0a0a0" />
<rect x="1008" y="2" width="24" height="21" fill="#f8f8f8" />
<rect x="1118" y="0" width="1" height="25" fill="#a0a0a0" />
<rect x="462" y="12" width="5" height="1" fill="#000" />
<rect x="463" y="13" width="3" height="1" fill="#000" />
<rect x="464" y="14" width="1" height="1" fill="#000" />
<rect x="501" y="12" width="5" height="1" fill="#000" />
<rect x="502" y="13" width="3" height="1" fill="#000" />
<rect x="503" y="14" width="1" height="1" fill="#000" />
<rect x="540" y="12" width="5" height="1" fill="#000" />
<rect x="541" y="13" width="3" height="1" fill="#000" />
<rect x="542" y="14" width="1" height="1" fill="#000" />
<rect x="846" y="12" width="5" height="1" fill="#000" />
<rect x="847" y="13" width="3" height="1" fill="#000" />
<rect x="848" y="14" width="1" height="1" fill="#000" />
<rect x="601" y="6" width="1" height="15" fill="#555" />
<rect x="594" y="13" width="15" height="1" fill="#555" />
<rect x="601" y="12" width="1" height="3" fill="#f0f0f0" />
<rect x="600" y="13" width="3" height="1" fill="#f0f0f0" />
<rect x="601" y="13" width="1" height="1" fill="#555" />
<rect x="635" y="7" width="1" height="14" fill="#555" />
<rect x="658" y="13" width="12" height="1" fill="#555" />
<rect x="741" y="6" width="1" height="1" fill="#555" />
<rect x="743" y="6" width="1" height="1" fill="#555" />
<rect x="745" y="6" width="1" height="1" fill="#555" />
<rect x="747" y="6" width="1" height="1" fill="#555" />
<rect x="749" y="6" width="1" height="1" fill="#555" />
<rect x="751" y="6" width="1" height="1" fill="#555" />
<rect x="753" y="6" width="1" height="1" fill="#555" />
<rect x="741" y="9" width="1" height="1" fill="#555" />
<rect x="743" y="9" width="1" height="1" fill="#555" />
<rect x="745" y="9" width="1" height="1" fill="#555" />
<rect x="747" y="9" width="1" height="1" fill="#555" />
<rect x="749" y="9" width="1" height="1" fill="#555" />
<rect x="751" y="9" width="1" height="1" fill="#555" />
<rect x="753" y="9" width="1" height="1" fill="#555" />
<rect x="741" y="13" width="1" height="1" fill="#555" />
<rect x="743" y="13" width="1" height="1" fill="#555" />
<rect x="745" y="13" width="1" height="1" fill="#555" />
<rect x="747" y="13" width="1" height="1" fill="#555" />
<rect x="749" y="13" width="1" height="1" fill="#555" />
<rect x="751" y="13" width="1" height="1" fill="#555" />
<rect x="753" y="13" width="1" height="1" fill="#555" />
<rect x="741" y="18" width="1" height="1" fill="#555" />
<rect x="743" y="18" width="1" height="1" fill="#555" />
<rect x="745" y="18" width="1" height="1" fill="#555" />
<rect x="747" y="18" width="1" height="1" fill="#555" />
<rect x="797" y="6" width="1" height="1" fill="#555" />
<rect x="797" y="19" width="1" height="1" fill="#555" />
<rect x="799" y="6" width="1" height="1" fill="#555" />
<rect x="799" y="19" width="1" height="1" fill="#555" />
<rect x="801" y="6" width="1" height="1" fill="#555" />
<rect x="801" y="19" width="1" height="1" fill="#555" />
<rect x="803" y="6" width="1" height="1" fill="#555" />
<rect x="803" y="19" width="1" height="1" fill="#555" />
<rect x="805" y="6" width="1" height="1" fill="#555" />
<rect x="805" y="19" width="1" height="1" fill="#555" />
<rect x="807" y="6" width="1" height="1" fill="#555" />
<rect x="807" y="19" width="1" height="1" fill="#555" />
<rect x="809" y="6" width="1" height="1" fill="#555" />
<rect x="809" y="19" width="1" height="1" fill="#555" />
<rect x="797" y="6" width="1" height="1" fill="#555" />
<rect x="809" y="6" width="1" height="1" fill="#555" />
<rect x="797" y="8" width="1" height="1" fill="#555" />
<rect x="809" y="8" width="1" height="1" fill="#555" />
<rect x="797" y="10" width="1" height="1" fill="#555" />
<rect x="809" y="10" width="1" height="1" fill="#555" />
<rect x="797" y="12" width="1" height="1" fill="#555" />
<rect x="809" y="12" width="1" height="1" fill="#555" />
<rect x="797" y="14" width="1" height="1" fill="#555" />
<rect x="809" y="14" width="1" height="1" fill="#555" />
<rect x="797" y="16" width="1" height="1" fill="#555" />
<rect x="809" y="16" width="1" height="1" fill="#555" />
<rect x="797" y="18" width="1" height="1" fill="#555" />
<rect x="809" y="18" width="1" height="1" fill="#555" />
<rect x="800" y="9" width="7" height="2" fill="#555" />
<rect x="802" y="9" width="2" height="9" fill="#555" />
</g>
<path d="M256.3 15.7 C258.6 14.6 260 10.5 262.2 10.5 C264.2 10.5 265.4 13.4 267.8 14" fill="none" stroke="#2a9a2a" stroke-width="1.3"/>
<polygon points="386.5,9.6 386.5,15.6 390.3,12.6" fill="#7ae07a" stroke="#1a9a1a" stroke-width="0.9"/>
<g shape-rendering="crispEdges">
<rect x="415" y="7" width="1" height="10" fill="#1c6fb5" />
</g>
<polygon points="417,12.5 421,10 421,15" fill="#e05010"/><rect x="417" y="12" width="5" height="1" fill="#e05010"/>
<line x1="685.8" y1="19.8" x2="698.2" y2="8" stroke="#555" stroke-width="1.2"/>
<g stroke="#555" stroke-width="1" fill="none"><line x1="712" y1="15" x2="726" y2="7"/><line x1="713" y1="19" x2="726" y2="11.5"/><line x1="716" y1="19" x2="719" y2="9"/><line x1="720" y1="17" x2="723" y2="7"/><line x1="724" y1="14" x2="725.5" y2="5"/></g>
<g shape-rendering="crispEdges">
<rect x="723" y="18" width="1" height="5" fill="#333" />
<rect x="723" y="18" width="4" height="1" fill="#333" />
<rect x="723" y="20" width="3" height="1" fill="#333" />
<rect x="723" y="22" width="4" height="1" fill="#333" />
<rect x="751" y="18" width="1" height="5" fill="#333" />
<rect x="751" y="18" width="4" height="1" fill="#333" />
<rect x="751" y="20" width="3" height="1" fill="#333" />
</g>
<text x="775.7" y="17.8" font-size="11.6" fill="#666" text-anchor="middle" font-weight="bold" >A</text>
<g fill="#444"><polygon points="826,9 829.5,5.5 833,9 829.5,11"/><polygon points="832,17 835.5,20 839,16.5 835.5,14"/></g><path d="M827.5 12.5 L830.5 16 L835 9.5" stroke="#444" stroke-width="1.3" fill="none"/>
<polygon points="569.5,6 569.5,17.5 572.3,15 574.6,20 576.4,19.2 574.2,14.3 577.8,14.3" fill="#444"/>
<text x="872.8" y="16.4" font-size="9.8" fill="#444" text-anchor="start" font-weight="normal" textLength="12.2" lengthAdjust="spacingAndGlyphs" >M1</text>
<text x="901" y="16.4" font-size="9.8" fill="#444" text-anchor="start" font-weight="normal" textLength="12.3" lengthAdjust="spacingAndGlyphs" >M5</text>
<text x="926.8" y="16.4" font-size="9.8" fill="#444" text-anchor="start" font-weight="normal" textLength="17.8" lengthAdjust="spacingAndGlyphs" >M15</text>
<text x="954.5" y="16.4" font-size="9.8" fill="#444" text-anchor="start" font-weight="normal" textLength="18.0" lengthAdjust="spacingAndGlyphs" >M30</text>
<text x="985.7" y="16.4" font-size="9.8" fill="#444" text-anchor="start" font-weight="normal" textLength="11.3" lengthAdjust="spacingAndGlyphs" >H1</text>
<text x="1012.7" y="16.4" font-size="9.8" fill="#444" text-anchor="start" font-weight="normal" textLength="12.0" lengthAdjust="spacingAndGlyphs" >H4</text>
<text x="1041.7" y="16.4" font-size="9.8" fill="#444" text-anchor="start" font-weight="normal" textLength="11.3" lengthAdjust="spacingAndGlyphs" >D1</text>
<text x="1069" y="16.4" font-size="9.8" fill="#444" text-anchor="start" font-weight="normal" textLength="14" lengthAdjust="spacingAndGlyphs" >W1</text>
<text x="1095.7" y="16.4" font-size="9.8" fill="#444" text-anchor="start" font-weight="normal" textLength="15.0" lengthAdjust="spacingAndGlyphs" >MN</text>
<text x="-0.5" y="16.4" font-size="12.6" fill="#000" text-anchor="start" style="font-family:'Liberation Sans','Noto Sans CJK SC',sans-serif">单</text>
<text x="127.9" y="16.4" font-size="12.6" fill="#000" text-anchor="start" textLength="47.8" lengthAdjust="spacingAndGlyphs" style="font-family:'Liberation Sans','Noto Sans CJK SC',sans-serif">自动交易</text>
<defs><linearGradient id="gd" x1="0" y1="0" x2="1" y2="1"><stop offset="0" stop-color="#ffe680"/><stop offset="0.5" stop-color="#f5c21a"/><stop offset="1" stop-color="#c98a10"/></linearGradient></defs>
<path d="M29.8 6.2 L39.5 13 L32 20.3 L24.4 15.3 Q28 11.5 29.8 6.2Z" fill="url(#gd)" stroke="#a8721a" stroke-width="0.9"/><path d="M32 20.3 L39.5 13 L39.5 14.6 L32.2 21.4 L24.4 16.5 L24.4 15.3Z" fill="#b87a18"/>
<path d="M54.5 7 L58 5.2 L64.6 5.8 L64.6 14.5 L54.5 14.5Z" fill="#2b8ef0"/><rect x="58.5" y="8" width="5.2" height="6" fill="#e8f2ff"/><rect x="59.5" y="9.2" width="3.4" height="1" fill="#2b8ef0"/>
<path d="M55 20.3 Q52.3 20.3 52.5 18 Q52.8 16 55 16 Q55.6 13.6 58.5 13.8 Q60.5 12.6 62.3 14.6 Q65 14.2 65.5 16.4 Q67.8 16.6 67.6 18.6 Q67.4 20.3 65.5 20.3Z" fill="#f4f7fc" stroke="#5a7ec0" stroke-width="0.9"/>
<g fill="none" stroke-width="1"><path d="M87.8 4.9 A7.5 7.5 0 0 0 87.8 19.9" stroke="#5a82d8"/><path d="M87.8 7.4 A5 5 0 0 0 87.8 17.4" stroke="#5a82d8"/><path d="M87.8 9.6 A2.8 2.8 0 0 0 87.8 15.2" stroke="#4a72d0"/></g>
<path d="M87.8 4.9 A7.5 7.5 0 0 1 87.8 19.9Z" fill="#b8d8b8"/><g fill="none" stroke="#6aa86a" stroke-width="1"><path d="M87.8 4.9 A7.5 7.5 0 0 1 87.8 19.9"/><path d="M87.8 7.4 A5 5 0 0 1 87.8 17.4"/><path d="M87.8 9.6 A2.8 2.8 0 0 1 87.8 15.2"/></g><circle cx="87.8" cy="12.4" r="1.5" fill="#2a5ad0"/><rect x="87.6" y="12.8" width="1.2" height="7.6" fill="#18a018"/>
<path d="M108 11 L122 11 L122 14 L115.5 20.3 L112 18Z" fill="#f7d43a" stroke="#c9a020" stroke-width="0.6"/><ellipse cx="115" cy="9.8" rx="7.6" ry="2.4" fill="#5aa0e0"/><path d="M110.6 9.5 Q111 5 115 5 Q119 5 119.4 9.5Z" fill="#6ab0ea"/><circle cx="119.3" cy="16.8" r="4" fill="#d81818"/><rect x="117.7" y="15.2" width="3.2" height="3.2" fill="#fff"/>
<line x1="296.0" y1="14" x2="301.5" y2="19.8" stroke="#c8a020" stroke-width="2.6" stroke-linecap="round"/><circle cx="292.5" cy="10.6" r="5.2" fill="#d8ecff" stroke="#3a78d0" stroke-width="1.3"/><rect x="289.4" y="9.9" width="6.2" height="1.6" fill="#3a78d0"/>
<rect x="291.7" y="7.6" width="1.6" height="6.2" fill="#3a78d0"/>
<line x1="324.1" y1="14" x2="329.6" y2="19.8" stroke="#c8a020" stroke-width="2.6" stroke-linecap="round"/><circle cx="320.6" cy="10.6" r="5.2" fill="#d8ecff" stroke="#3a78d0" stroke-width="1.3"/><rect x="317.5" y="9.9" width="6.2" height="1.6" fill="#3a78d0"/>
<rect x="343" y="5" width="7.8" height="7.6" fill="#3ca01c"/><rect x="344.4" y="7.8" width="5" height="3.6" fill="#e8f0ff"/><rect x="345.2" y="9.3" width="3.4" height="0.8" fill="#3ca01c"/>
<rect x="351.4" y="5" width="7.8" height="7.6" fill="#1c50c8"/><rect x="352.79999999999995" y="7.8" width="5" height="3.6" fill="#e8f0ff"/><rect x="353.59999999999997" y="9.3" width="3.4" height="0.8" fill="#1c50c8"/>
<rect x="343" y="13.4" width="7.8" height="7.6" fill="#1c50c8"/><rect x="344.4" y="16.2" width="5" height="3.6" fill="#e8f0ff"/><rect x="345.2" y="17.7" width="3.4" height="0.8" fill="#1c50c8"/>
<rect x="351.4" y="13.4" width="7.8" height="7.6" fill="#3ca01c"/><rect x="352.79999999999995" y="16.2" width="5" height="3.6" fill="#e8f0ff"/><rect x="353.59999999999997" y="17.7" width="3.4" height="0.8" fill="#3ca01c"/>
<path d="M440.5 5.5 H448 L451 8.5 V18 H440.5Z" fill="#fafafa" stroke="#888" stroke-width="0.9"/><path d="M444 9 h-1.4 v6 h1.4 M443 12 h2.2 M446.6 9 v2" stroke="#666" stroke-width="0.9" fill="none"/><path d="M448 10.8 h3.8 v3.9 h3.9 v3.8 h-3.9 v3.9 h-3.8 v-3.9 h-3.9 v-3.8 h3.9z" fill="#2cc82c" stroke="#168a16" stroke-width="0.8"/>
<circle cx="486" cy="12.6" r="7.4" fill="#2a6cd0"/><circle cx="486" cy="12.6" r="7.4" fill="none" stroke="#1a4aa0" stroke-width="0.8"/><circle cx="486" cy="12.6" r="5.2" fill="#f6f8fc"/><path d="M486 8.6 V12.8 H488.6" stroke="#444" stroke-width="1" fill="none"/>
<rect x="517.5" y="6" width="15.5" height="13.5" fill="#f4f8ff" stroke="#2a64c8" stroke-width="1"/><rect x="517" y="5.5" width="16.5" height="2.4" fill="#2a64c8"/><rect x="518" y="13" width="14.5" height="0.8" fill="#2a64c8"/><path d="M519.5 11.6 L522 10.6 L524.5 11.2 L527 9.8 L529 10.6 L531.5 9.4" stroke="#a02010" stroke-width="1" fill="none"/><path d="M520 17.6 L522.5 16.4 L524.5 17.4 L527.5 15.6 L529.5 17.4 L531.5 16.2" stroke="#18a018" stroke-width="1" fill="none"/>
<line x1="1584.8" y1="15.6" x2="1581.6" y2="19" stroke="#2a4ab0" stroke-width="1.8" stroke-linecap="round"/><circle cx="1588" cy="11.6" r="3.9" fill="#eef4ff" stroke="#2a4ab0" stroke-width="1.4"/>
<g fill="#f4f4f4" stroke="#909090" stroke-width="0.9"><path d="M1616 7.2 Q1616 5.4 1618.5 5.4 H1626 Q1628.6 5.4 1628.6 7.6 V11 Q1628.6 13 1626 13 H1625 L1625.6 15.4 L1622.4 13 H1618.5 Q1616 13 1616 11Z"/><path d="M1607.6 10.6 Q1607.6 8.6 1610 8.6 H1618.6 Q1621 8.6 1621 10.6 V14.6 Q1621 16.6 1618.6 16.6 H1613.4 L1610.4 19.4 L1611 16.6 H1610 Q1607.6 16.6 1607.6 14.6Z"/></g>
</svg>
</body></html>
